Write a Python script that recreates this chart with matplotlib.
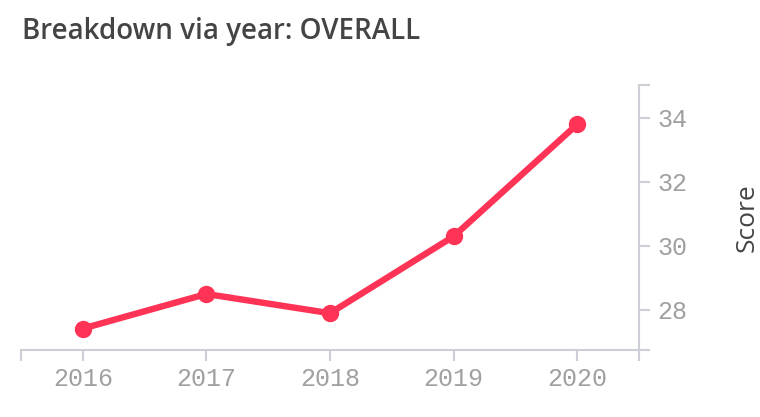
import matplotlib
matplotlib.use("Agg")
import matplotlib.pyplot as plt

# data
years = [2016, 2017, 2018, 2019, 2020]
scores = [27.42, 28.5, 27.9, 30.3, 33.8]
y_ticks = [28, 30, 32, 34]

line_color = "#ff3355"
axis_color = "#ccd0d6"
tick_label_color = "#a0a0a0"

fig = plt.figure(figsize=(7.6, 4.17), dpi=100)
ax = fig.add_axes([21 / 760, 1 - 350 / 417, (639 - 21) / 760, (350 - 85) / 417])

ax.plot(years, scores, color=line_color, lw=4.6, marker="o", ms=11.5,
        solid_capstyle="round", solid_joinstyle="round", zorder=3, clip_on=False)

ax.set_xlim(2015.5, 2020.5)
ax.set_ylim(26.75, 35.03)

for s in ["top", "left"]:
    ax.spines[s].set_visible(False)
for s in ["bottom", "right"]:
    ax.spines[s].set_color(axis_color)
    ax.spines[s].set_linewidth(1.5)

ax.yaxis.tick_right()
ax.yaxis.set_label_position("right")
ax.set_xticks(years)
ax.set_xticklabels([str(y) for y in years])
ax.set_yticks(y_ticks)
ax.set_xticks([2015.5, 2020.5], minor=True)
ax.set_yticks([26.75, 35.03], minor=True)

ax.tick_params(axis="both", which="both", length=8, width=1.5, color=axis_color,
               labelcolor=tick_label_color, direction="out")
ax.tick_params(axis="x", pad=4)
ax.tick_params(axis="y", pad=5)
for lbl in ax.get_xticklabels() + ax.get_yticklabels():
    lbl.set_fontfamily("Liberation Mono")
    lbl.set_fontsize(18)

ax.set_ylabel("Score", fontsize=19, family="Open Sans", color="#444444", labelpad=34)

fig.text(22 / 760, 1 - 32 / 417, "Breakdown via year: OVERALL", fontsize=20,
         family="Open Sans", fontweight="semibold", color="#444444", va="center", ha="left")

fig.savefig("out.png", dpi=100)
